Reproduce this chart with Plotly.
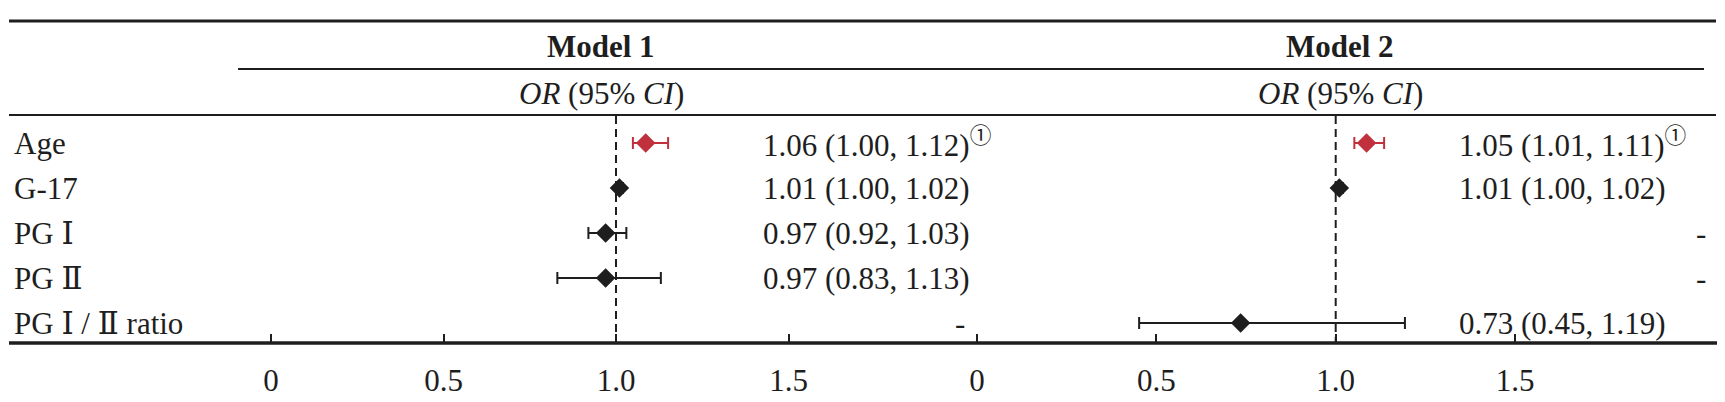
import plotly.graph_objects as go

W, H = 1725, 402

# ---------------- data ----------------
rows = ["Age", "G-17", "PG Ⅰ", "PG Ⅱ", "PG Ⅰ / Ⅱ ratio"]

m1_or = [1.086, 1.01, 0.97, 0.97, None]
m1_lo = [1.049, 1.00, 0.92, 0.83, None]
m1_hi = [1.151, 1.02, 1.03, 1.13, None]
m1_txt = ["1.06 (1.00, 1.12)", "1.01 (1.00, 1.02)", "0.97 (0.92, 1.03)", "0.97 (0.83, 1.13)", None]
m1_sig = [True, False, False, False, False]

m2_or = [1.086, 1.01, None, None, 0.735]
m2_lo = [1.052, 1.00, None, None, 0.452]
m2_hi = [1.135, 1.02, None, None, 1.193]
m2_txt = ["1.05 (1.01, 1.11)", "1.01 (1.00, 1.02)", None, None, "0.73 (0.45, 1.19)"]
m2_sig = [True, False, False, False, False]

models = ["Model 1", "Model 2"]
tick_vals = [0, 0.5, 1.0, 1.5]
tick_text = ["0", "0.5", "1.0", "1.5"]

# ---------------- style ----------------
RED = "#C0313D"
BLK = "#1e1e1e"
FONT = "Liberation Serif, DejaVu Serif, Noto Sans CJK SC, serif"
FS = 31

# pixel layout helpers
def px(x):
    return x / W

def py(y):
    return 1 - y / H

AXIS_Y = 343
ROW0_Y, ROW_STEP = 143, 45
panels = [
    dict(dom=(200, 968), zero=271, unit=345, text_x=761, dash_x=960, head_x=601),
    dict(dom=(968, 1716), zero=977, unit=358.7, text_x=1457, dash_x=1701, head_x=1340),
]

fig = go.Figure()
data = [(m1_or, m1_lo, m1_hi, m1_txt, m1_sig), (m2_or, m2_lo, m2_hi, m2_txt, m2_sig)]

annotations = []
shapes = []

for k, (vals, lo, hi, txt, sig) in enumerate(data):
    xa = "x" if k == 0 else "x2"
    for want_sig, col in [(True, RED), (False, BLK)]:
        idx = [i for i in range(len(rows)) if vals[i] is not None and sig[i] == want_sig]
        if not idx:
            continue
        fig.add_trace(go.Scatter(
            x=[vals[i] for i in idx],
            y=[rows[i] for i in idx],
            xaxis=xa, yaxis="y",
            mode="markers",
            marker=dict(symbol="diamond", size=15, color=col, line=dict(width=0)),
            error_x=dict(type="data", symmetric=False,
                         array=[hi[i] - vals[i] for i in idx],
                         arrayminus=[vals[i] - lo[i] for i in idx],
                         color=col, thickness=2, width=6),
            showlegend=False, hoverinfo="skip",
        ))
    p = panels[k]
    for i, r in enumerate(rows):
        if txt[i] is None:
            annotations.append(dict(text="-", x=px(p["dash_x"]), xref="paper", xanchor="center",
                                    y=r, yref="y", yanchor="middle", showarrow=False,
                                    font=dict(family=FONT, size=FS, color=BLK)))
        else:
            t = txt[i] + ("<sup>①</sup>" if sig[i] else "")
            annotations.append(dict(text=t, x=px(p["text_x"]), xref="paper", xanchor="left",
                                    y=r, yref="y", yanchor="middle", showarrow=False,
                                    font=dict(family=FONT, size=FS, color=BLK)))
    # headers
    annotations.append(dict(text="<b>%s</b>" % models[k], x=px(p["head_x"]), xref="paper",
                            xanchor="center", y=py(47), yref="paper", yanchor="middle",
                            showarrow=False, font=dict(family=FONT, size=FS, color=BLK)))
    annotations.append(dict(text="<i>OR</i> (95% <i>CI</i>)", x=px(p["head_x"]), xref="paper",
                            xanchor="center", y=py(93), yref="paper", yanchor="middle",
                            showarrow=False, font=dict(family=FONT, size=FS, color=BLK)))
    # reference line at OR = 1
    shapes.append(dict(type="line", xref=xa, yref="paper", x0=1, x1=1,
                       y0=py(116), y1=py(AXIS_Y),
                       line=dict(color=BLK, width=2, dash="8px,5px")))

# row labels
for r in rows:
    annotations.append(dict(text=r, x=px(12), xref="paper", xanchor="left",
                            y=r, yref="y", yanchor="middle", showarrow=False,
                            font=dict(family=FONT, size=FS, color=BLK)))

# table rules
shapes += [
    dict(type="line", xref="paper", yref="paper", x0=px(9), x1=px(1716), y0=py(21), y1=py(21),
         line=dict(color=BLK, width=3)),
    dict(type="line", xref="paper", yref="paper", x0=px(238), x1=px(1704), y0=py(69), y1=py(69),
         line=dict(color=BLK, width=2)),
    dict(type="line", xref="paper", yref="paper", x0=px(9), x1=px(1716), y0=py(115), y1=py(115),
         line=dict(color=BLK, width=2)),
    dict(type="line", xref="paper", yref="paper", x0=px(9), x1=px(1717), y0=py(AXIS_Y), y1=py(AXIS_Y),
         line=dict(color=BLK, width=3.5)),
]

def xaxis_for(p):
    a, b = p["dom"]
    return dict(
        domain=[px(a), px(b)],
        range=[(a - p["zero"]) / p["unit"], (b - p["zero"]) / p["unit"]],
        anchor="y", showgrid=False, zeroline=False, showline=False,
        tickmode="array", tickvals=tick_vals, ticktext=tick_text,
        ticks="inside", ticklen=9, tickwidth=1.5, tickcolor=BLK,
        ticklabelstandoff=16,
        tickfont=dict(family=FONT, size=FS, color=BLK),
    )

top_val = -ROW0_Y / ROW_STEP
bot_val = top_val + AXIS_Y / ROW_STEP

fig.update_layout(
    width=W, height=H,
    margin=dict(l=0, r=0, t=0, b=0),
    paper_bgcolor="white", plot_bgcolor="white",
    xaxis=xaxis_for(panels[0]),
    xaxis2=xaxis_for(panels[1]),
    yaxis=dict(domain=[py(AXIS_Y), 1], type="category", categoryarray=rows,
               range=[bot_val, top_val], showgrid=False, zeroline=False,
               showticklabels=False, showline=False, ticks=""),
    annotations=annotations,
    shapes=shapes,
)

fig.write_html("out.html",
               config={"displayModeBar": False},
               post_script="document.body.style.margin='0';document.body.style.padding='0';")
